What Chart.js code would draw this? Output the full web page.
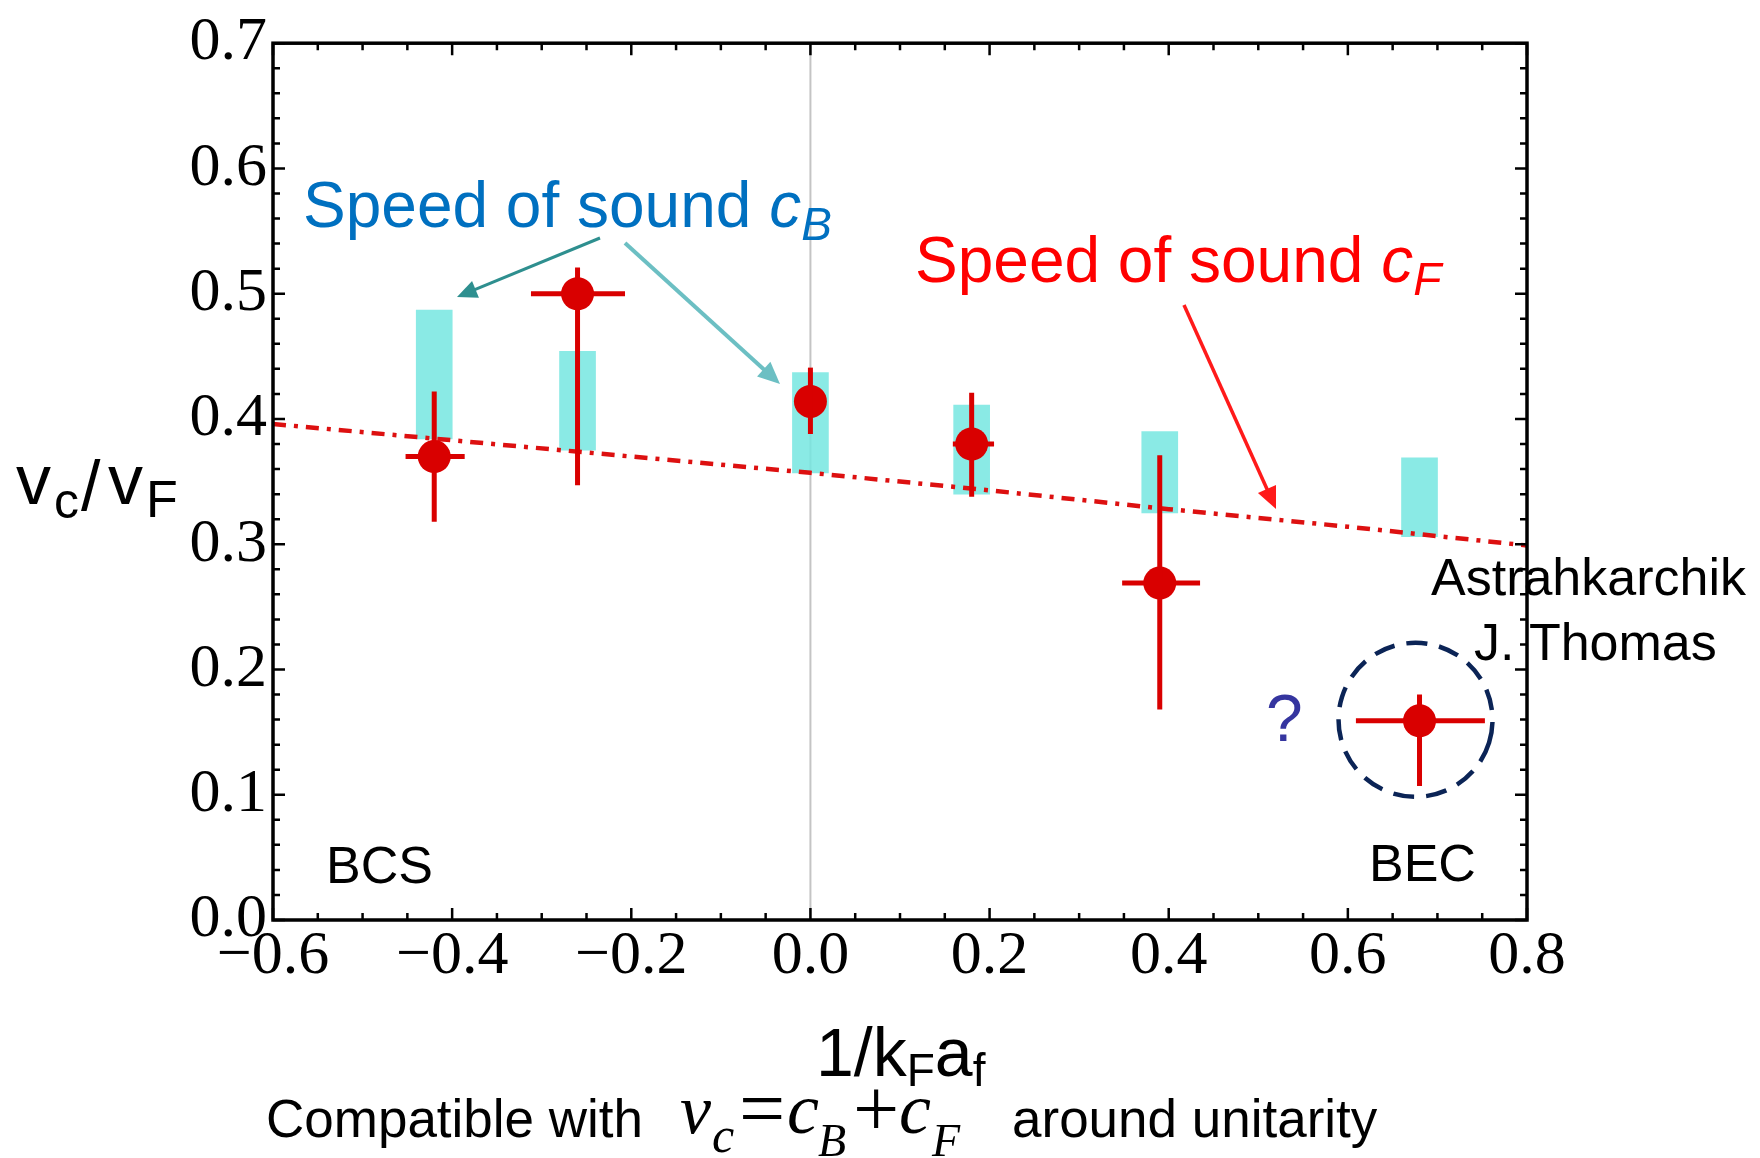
<!DOCTYPE html>
<html>
<head>
<meta charset="utf-8">
<script src="https://cdn.jsdelivr.net/npm/chart.js@4.4.1/dist/chart.umd.min.js"></script>
<style>
  html, body { margin: 0; padding: 0; background: #fff; }
  #wrap { width: 1760px; height: 1158px; }
</style>
</head>
<body>
<div id="wrap"><canvas id="chart" width="1760" height="1158"></canvas></div>
<script>
// critical velocity v_c / v_F across the BCS-BEC crossover
const xVals    = [-0.42, -0.26, 0.0, 0.18, 0.39, 0.68];
const vcVals   = [0.370, 0.500, 0.414, 0.380, 0.269, 0.159];
const vcErrLo  = [0.318, 0.347, 0.388, 0.338, 0.168, 0.107];
const vcErrHi  = [0.422, 0.521, 0.441, 0.421, 0.371, 0.180];
const xErrLo   = [-0.452, -0.312, 0.0, 0.159, 0.348, 0.609];
const xErrHi   = [-0.386, -0.207, 0.0, 0.205, 0.435, 0.753];

// Bogoliubov sound speed band c_B (low / high)
const cbLow    = [0.384, 0.375, 0.357, 0.340, 0.325, 0.306];
const cbHigh   = [0.487, 0.454, 0.437, 0.411, 0.390, 0.369];

// fermionic sound speed c_F
const cfX      = [-0.6, -0.4, -0.2, 0.0, 0.2, 0.4, 0.6, 0.8];
const cfY      = [0.396, 0.383, 0.370, 0.357, 0.343, 0.328, 0.314, 0.299];

// axes
const xTicks      = [-0.6, -0.4, -0.2, 0.0, 0.2, 0.4, 0.6, 0.8];
const xTickLabels = ['\u22120.6', '\u22120.4', '\u22120.2', '0.0', '0.2', '0.4', '0.6', '0.8'];
const yTicks      = [0.0, 0.1, 0.2, 0.3, 0.4, 0.5, 0.6, 0.7];
const yTickLabels = ['0.0', '0.1', '0.2', '0.3', '0.4', '0.5', '0.6', '0.7'];

const RED = '#d90000';
const SANS = '"Liberation Sans", Arial, sans-serif';
const SERIF = '"Liberation Serif", "Times New Roman", serif';

function arrow(ctx, x1, y1, x2, y2, color, w, head) {
  const a = Math.atan2(y2 - y1, x2 - x1);
  ctx.save();
  ctx.strokeStyle = color; ctx.fillStyle = color; ctx.lineWidth = w;
  ctx.beginPath();
  ctx.moveTo(x1, y1);
  ctx.lineTo(x2 - Math.cos(a) * head * 0.8, y2 - Math.sin(a) * head * 0.8);
  ctx.stroke();
  ctx.beginPath();
  ctx.moveTo(x2, y2);
  ctx.lineTo(x2 - head * Math.cos(a) + head * 0.45 * Math.sin(a), y2 - head * Math.sin(a) - head * 0.45 * Math.cos(a));
  ctx.lineTo(x2 - head * Math.cos(a) - head * 0.45 * Math.sin(a), y2 - head * Math.sin(a) + head * 0.45 * Math.cos(a));
  ctx.closePath();
  ctx.fill();
  ctx.restore();
}

// draws a run of [text, font, dy] pieces left to right from x
function runText(ctx, x, y, parts, color) {
  ctx.save();
  ctx.fillStyle = color;
  ctx.textBaseline = 'alphabetic';
  ctx.textAlign = 'left';
  for (const [t, f, dy] of parts) {
    ctx.font = f;
    ctx.fillText(t, x, y + dy);
    x += ctx.measureText(t).width;
  }
  ctx.restore();
}

// draws [text, font, x, y] pieces at fixed spots
function placeText(ctx, parts, color) {
  ctx.save();
  ctx.fillStyle = color;
  ctx.textBaseline = 'alphabetic';
  ctx.textAlign = 'left';
  for (const [t, f, x, y] of parts) {
    ctx.font = f;
    ctx.fillText(t, x, y);
  }
  ctx.restore();
}

const zeroLine = {
  id: 'zeroLine',
  beforeDatasetsDraw(chart) {
    const { ctx, chartArea: a, scales: { x } } = chart;
    const px = x.getPixelForValue(0);
    ctx.save();
    ctx.strokeStyle = '#c4c4c4';
    ctx.lineWidth = 2;
    ctx.beginPath();
    ctx.moveTo(px, a.top); ctx.lineTo(px, a.bottom);
    ctx.stroke();
    ctx.restore();
  }
};

const errorBars = {
  id: 'errorBars',
  afterDatasetsDraw(chart) {
    const { ctx, scales: { x, y } } = chart;
    ctx.save();
    ctx.strokeStyle = RED;
    ctx.lineWidth = 5;
    xVals.forEach((xv, i) => {
      const px = x.getPixelForValue(xv);
      const py = y.getPixelForValue(vcVals[i]);
      ctx.beginPath();
      ctx.moveTo(px, y.getPixelForValue(vcErrLo[i]));
      ctx.lineTo(px, y.getPixelForValue(vcErrHi[i]));
      if (xErrHi[i] > xErrLo[i]) {
        ctx.moveTo(x.getPixelForValue(xErrLo[i]), py);
        ctx.lineTo(x.getPixelForValue(xErrHi[i]), py);
      }
      ctx.stroke();
    });
    // dashed ring round the last point
    const last = xVals.length - 1;
    ctx.strokeStyle = '#0b2456';
    ctx.lineWidth = 4.5;
    ctx.setLineDash([21, 12]);
    ctx.beginPath();
    ctx.arc(x.getPixelForValue(xVals[last]) - 4, y.getPixelForValue(vcVals[last]) - 1, 77, 0.3, 0.3 + Math.PI * 2);
    ctx.stroke();
    ctx.restore();
  }
};

const frame = {
  id: 'frame',
  afterDraw(chart) {
    const { ctx, chartArea: a, scales: { x, y } } = chart;
    ctx.save();
    ctx.strokeStyle = '#000';
    ctx.lineWidth = 2.5;
    ctx.beginPath();
    // x ticks, bottom and top
    for (let k = 0; k <= 28; k++) {
      const px = x.getPixelForValue(-0.6 + k * 0.05);
      const len = k % 4 === 0 ? 12 : 7;
      ctx.moveTo(px, a.bottom); ctx.lineTo(px, a.bottom - len);
      ctx.moveTo(px, a.top); ctx.lineTo(px, a.top + len);
    }
    // y ticks, left and right
    for (let k = 0; k <= 35; k++) {
      const py = y.getPixelForValue(k * 0.02);
      const len = k % 5 === 0 ? 12 : 7;
      ctx.moveTo(a.left, py); ctx.lineTo(a.left + len, py);
      ctx.moveTo(a.right, py); ctx.lineTo(a.right - len, py);
    }
    ctx.stroke();
    ctx.lineWidth = 3.5;
    ctx.strokeRect(a.left, a.top, a.right - a.left, a.bottom - a.top);
    ctx.restore();
  }
};

const labels = {
  id: 'labels',
  afterDraw(chart) {
    const ctx = chart.ctx;

    // axis titles
    placeText(ctx, [
      ['v', '70px ' + SANS, 16, 504],
      ['c', '50px ' + SANS, 54, 518],
      ['/', '70px ' + SANS, 81, 510],
      ['v', '70px ' + SANS, 108, 504],
      ['F', '52px ' + SANS, 146, 517]
    ], '#000');
    runText(ctx, 816, 1076, [
      ['1/k', '68px ' + SANS, 0],
      ['F', '46px ' + SANS, 10],
      ['a', '68px ' + SANS, 0],
      ['f', '46px ' + SANS, 10]
    ], '#000');

    // sound-speed captions
    runText(ctx, 303, 227, [
      ['Speed of sound ', '64px ' + SANS, 0],
      ['c', 'italic 64px ' + SANS, 0],
      ['B', 'italic 46px ' + SANS, 13]
    ], '#0070c0');
    runText(ctx, 915, 282, [
      ['Speed of sound ', '64px ' + SANS, 0],
      ['c', 'italic 64px ' + SANS, 0],
      ['F', 'italic 46px ' + SANS, 13]
    ], '#ff0000');

    arrow(ctx, 600, 238, 457, 297, '#2e8f8f', 3, 20);
    arrow(ctx, 625, 243, 780, 384, '#6cbfc3', 4, 22);
    arrow(ctx, 1184, 305, 1276, 509, '#ff1a1a', 3.5, 22);

    runText(ctx, 1431, 595, [['Astrahkarchik', '52px ' + SANS, 0]], '#000');
    runText(ctx, 1474, 660, [['J. Thomas', '52px ' + SANS, 0]], '#000');
    runText(ctx, 1266, 741, [['?', '66px ' + SANS, 0]], '#35359f');
    runText(ctx, 326, 883, [['BCS', '52px ' + SANS, 0]], '#000');
    runText(ctx, 1369, 881, [['BEC', '52px ' + SANS, 0]], '#000');

    // footnote
    runText(ctx, 266, 1137, [['Compatible with', '53px ' + SANS, 0]], '#000');
    placeText(ctx, [
      ['v', 'italic 70px ' + SERIF, 680, 1133],
      ['c', 'italic 50px ' + SERIF, 712, 1152],
      ['=', '82px ' + SERIF, 739, 1136],
      ['c', 'italic 72px ' + SERIF, 787, 1133],
      ['B', 'italic 46px ' + SERIF, 818, 1156],
      ['+', '82px ' + SERIF, 853, 1136],
      ['c', 'italic 72px ' + SERIF, 899, 1133],
      ['F', 'italic 46px ' + SERIF, 932, 1156]
    ], '#000');
    runText(ctx, 1012, 1137, [['around unitarity', '53px ' + SANS, 0]], '#000');
  }
};

new Chart(document.getElementById('chart'), {
  type: 'bar',
  data: {
    datasets: [
      {
        type: 'line',
        label: 'v_c',
        data: xVals.map((x, i) => ({ x, y: vcVals[i] })),
        showLine: false,
        pointRadius: 16.5,
        pointBackgroundColor: RED,
        pointBorderWidth: 0,
        order: 1
      },
      {
        type: 'line',
        label: 'c_F',
        data: cfX.map((x, i) => ({ x, y: cfY[i] })),
        borderColor: '#dd1010',
        borderWidth: 4.5,
        borderDash: [13, 8, 4, 8],
        pointRadius: 0,
        fill: false,
        order: 2
      },
      {
        type: 'bar',
        label: 'c_B',
        data: xVals.map((x, i) => ({ x, y: [cbLow[i], cbHigh[i]] })),
        backgroundColor: 'rgba(118,230,224,0.85)',
        borderWidth: 0,
        barThickness: 36,
        grouped: false,
        order: 3
      }
    ]
  },
  options: {
    responsive: false,
    animation: false,
    layout: { padding: { left: 0, top: 36, right: 233, bottom: 0 } },
    plugins: { legend: { display: false }, tooltip: { enabled: false } },
    scales: {
      x: {
        type: 'linear',
        min: -0.6,
        max: 0.8,
        offset: false,
        grid: { display: false, drawTicks: false },
        border: { display: false },
        afterBuildTicks: s => { s.ticks = xTicks.map(v => ({ value: v })); },
        afterFit: s => { s.height = 238; },
        ticks: {
          autoSkip: false,
          maxRotation: 0,
          padding: 0,
          color: '#000',
          font: { family: SERIF, size: 62 },
          callback: (v, i) => xTickLabels[i]
        }
      },
      y: {
        type: 'linear',
        min: 0,
        max: 0.7,
        grid: { display: false, drawTicks: false },
        border: { display: false },
        afterBuildTicks: s => { s.ticks = yTicks.map(v => ({ value: v })); },
        afterFit: s => { s.width = 273; },
        ticks: {
          autoSkip: false,
          padding: 6,
          color: '#000',
          font: { family: SERIF, size: 62 },
          callback: (v, i) => yTickLabels[i]
        }
      }
    }
  },
  plugins: [zeroLine, errorBars, frame, labels]
});
</script>
</body>
</html>
